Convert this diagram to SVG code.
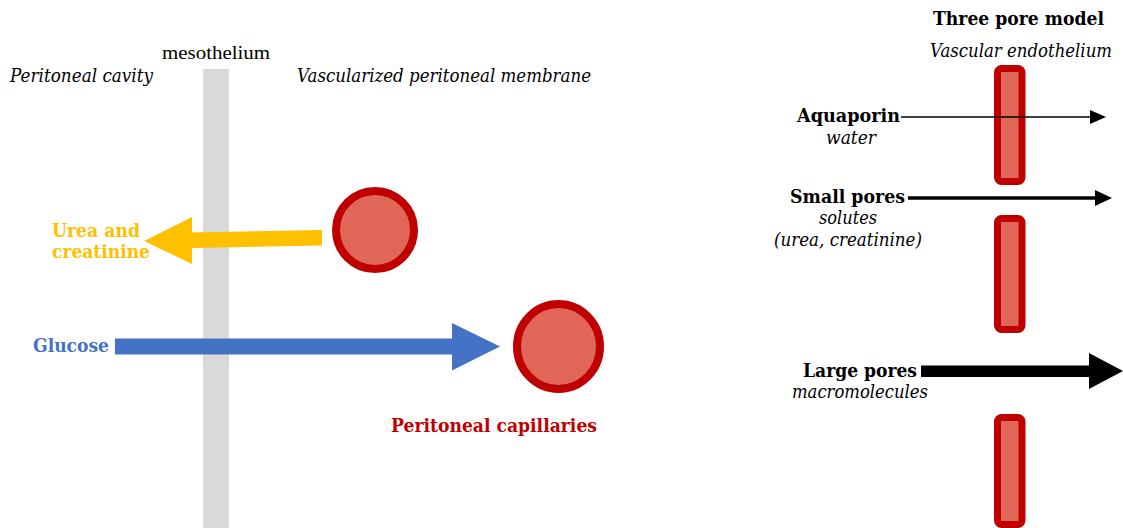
<svg xmlns="http://www.w3.org/2000/svg" width="1123" height="528" viewBox="0 0 1123 528">
<style>
.t{font-family:"DejaVu Serif","Liberation Serif",serif;font-size:18px;fill:#000}
.i{font-style:italic}
.b{font-weight:bold}
.cap{fill:#e06658;stroke:#c00000;stroke-width:8}
.pore{fill:#e06658;stroke:#c00000;stroke-width:7}
</style>
<rect width="1123" height="528" fill="#fff"/>
<g id="mesothelium">
<rect x="203" y="69" width="26" height="459" fill="#d9d9d9"/>
<text x="162" y="59" style="font-family:'Liberation Serif',serif;font-size:19px" textLength="108" lengthAdjust="spacingAndGlyphs">mesothelium</text>
</g>
<g id="labels-left">
<text class="t i" x="10" y="82" textLength="143" lengthAdjust="spacingAndGlyphs">Peritoneal cavity</text>
<text class="t i" x="297" y="82" textLength="294" lengthAdjust="spacingAndGlyphs">Vascularized peritoneal membrane</text>
</g>
<g id="capillary1"><circle class="cap" cx="375" cy="230" r="39"/></g>
<g id="capillary2"><ellipse class="cap" cx="558.5" cy="346.5" rx="41.5" ry="42.5"/>
<text class="t b" x="391" y="432" style="fill:#c00000" textLength="206" lengthAdjust="spacingAndGlyphs">Peritoneal capillaries</text></g>
<g id="urea">
<text class="t b" x="52" y="237" style="fill:#ffc000" textLength="88" lengthAdjust="spacingAndGlyphs">Urea and</text>
<text class="t b" x="52" y="258" style="fill:#ffc000" textLength="98" lengthAdjust="spacingAndGlyphs">creatinine</text>
</g>
<g id="glucose">
<text class="t b" x="33" y="352" style="fill:#4472c4" textLength="76" lengthAdjust="spacingAndGlyphs">Glucose</text>
</g>
<g id="three-pore-title">
<text class="t b" x="933" y="25" textLength="171" lengthAdjust="spacingAndGlyphs">Three pore model</text>
<text class="t i" x="930" y="57" textLength="182" lengthAdjust="spacingAndGlyphs">Vascular endothelium</text>
</g>
<g id="pores">
<rect class="pore" x="997.5" y="68.5" width="24.5" height="113" rx="4"/>
<rect class="pore" x="997.5" y="218.5" width="24.5" height="111" rx="4"/>
<rect class="pore" x="997.5" y="417.5" width="24.5" height="107" rx="4"/>
</g>
<g id="aquaporin">
<text class="t b" x="797" y="122" textLength="103" lengthAdjust="spacingAndGlyphs">Aquaporin</text>
<text class="t i" x="826" y="144" textLength="50" lengthAdjust="spacingAndGlyphs">water</text>
</g>
<g id="small-pores">
<text class="t b" x="790" y="203" textLength="115" lengthAdjust="spacingAndGlyphs">Small pores</text>
<text class="t i" x="819" y="224" textLength="58" lengthAdjust="spacingAndGlyphs">solutes</text>
<text class="t i" x="774" y="246" textLength="148" lengthAdjust="spacingAndGlyphs">(urea, creatinine)</text>
</g>
<g id="large-pores">
<text class="t b" x="803" y="377" textLength="114" lengthAdjust="spacingAndGlyphs">Large pores</text>
<text class="t i" x="792" y="398" textLength="136" lengthAdjust="spacingAndGlyphs">macromolecules</text>
</g>
<g id="connectors">
<polygon points="322,230 322,245.5 192,248 192,264 144,241 192,217 192,232.5" fill="#ffc000"/>
<polygon points="115,338.5 452,338.5 452,323 500,346.5 452,370.5 452,354.5 115,354.5" fill="#4472c4"/>
<line x1="901" y1="117" x2="1092" y2="117" stroke="#000" stroke-width="1.3"/>
<polygon points="1090,110 1106,117 1090,124" fill="#000"/>
<line x1="908" y1="198" x2="1097" y2="198" stroke="#000" stroke-width="3.5"/>
<polygon points="1095,190 1112,198 1095,206" fill="#000"/>
<polygon points="921,365.5 1089,365.5 1089,353 1123,371 1089,389 1089,377 921,377" fill="#000"/>
</g>
</svg>
